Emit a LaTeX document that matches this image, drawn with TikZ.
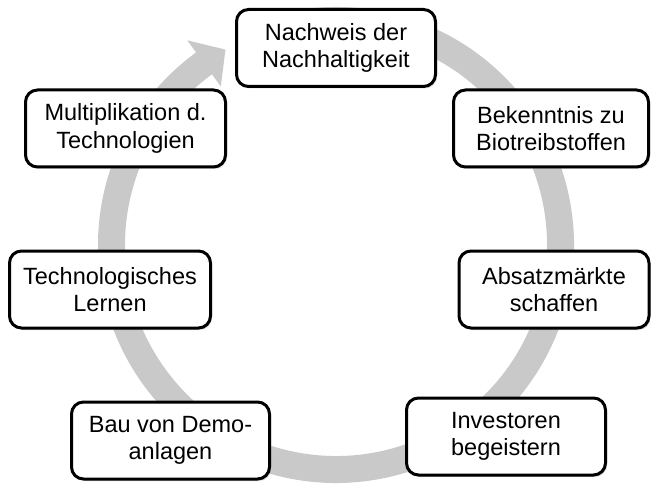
\documentclass[tikz,border=0pt]{standalone}
\usepackage{fontspec}
\setmainfont{Liberation Sans}
\usepackage{tikz}
\usetikzlibrary{shadows}
\definecolor{ringgrey}{RGB}{201,201,201}
\tikzset{
  stage/.style={draw=black, line width=3pt, fill=white, rounded corners=12pt,
    minimum height=77pt, align=center, inner sep=2pt,
    font=\fontsize{23.5}{27.5}\selectfont,
    drop shadow={opacity=0.3, shadow xshift=1.5pt, shadow yshift=-2pt}}
}
\begin{document}
\begin{tikzpicture}[x=1pt,y=1pt]
\useasboundingbox (0,0) rectangle (652,485);
\begin{scope}[shift={(336,240)}]
\fill[ringgrey] (97:238pt) arc[start angle=97, end angle=-234, radius=238pt]
  -- (-234:253pt) -- (-240.5:224.5pt) -- (-234:196pt) -- (-234:211pt)
  arc[start angle=-234, end angle=97, radius=211pt] -- cycle;
\end{scope}
\node[stage, minimum width=199pt] (nachweis) at (336,437) {Nachweis der\\Nachhaltigkeit};
\node[stage, minimum width=195pt] (bekenntnis) at (551,356.5) {Bekenntnis zu\\Biotreibstoffen};
\node[stage, minimum width=190pt] (absatz) at (554,195.5) {Absatzmärkte\\schaffen};
\node[stage, minimum width=199pt] (investoren) at (506,48.5) {Investoren\\begeistern};
\node[stage, minimum width=198pt] (demo) at (170.5,44.5) {Bau von Demo-\\anlagen};
\node[stage, minimum width=201pt] (lernen) at (110,195.5) {Technologisches\\Lernen};
\node[stage, minimum width=200pt] (multi) at (125.5,356.5) {Multiplikation d.\\Technologien};
\end{tikzpicture}
\end{document}
